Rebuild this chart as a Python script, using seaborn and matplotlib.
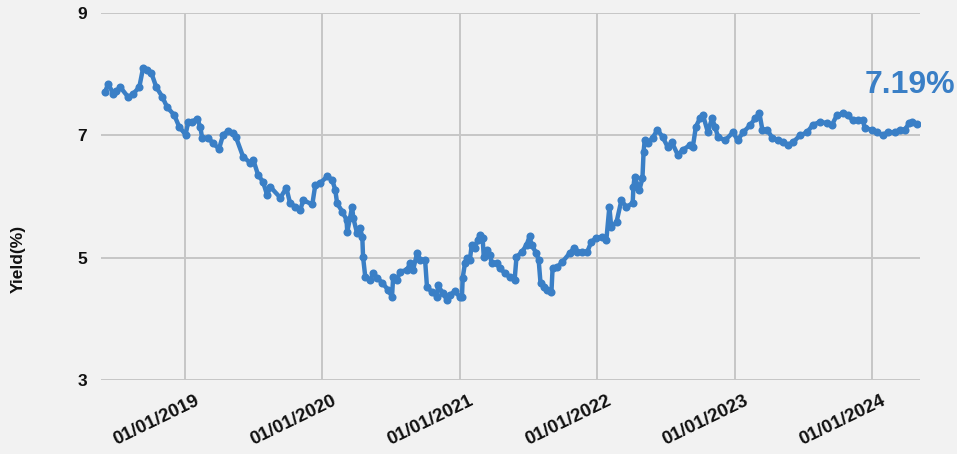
import pandas as pd
import matplotlib
matplotlib.use("Agg")
import matplotlib.pyplot as plt
import matplotlib.dates as mdates
import matplotlib.transforms as mtransforms
import seaborn as sns

# ==============================
# Data
# ==============================
dates = [
    "2018-06-02", "2018-06-10", "2018-06-24", "2018-07-02", "2018-07-12", "2018-08-03",
    "2018-08-16", "2018-09-01", "2018-09-11", "2018-09-22", "2018-10-03", "2018-10-16",
    "2018-11-01", "2018-11-14", "2018-12-03", "2018-12-16", "2019-01-02", "2019-01-09",
    "2019-01-19", "2019-02-02", "2019-02-10", "2019-02-15", "2019-03-03", "2019-03-16",
    "2019-04-01", "2019-04-12", "2019-04-25", "2019-05-08", "2019-05-16", "2019-06-04",
    "2019-06-23", "2019-07-01", "2019-07-14", "2019-07-27", "2019-08-07", "2019-08-15",
    "2019-09-11", "2019-09-27", "2019-10-07", "2019-10-21", "2019-11-03", "2019-11-11",
    "2019-12-05", "2019-12-13", "2019-12-26", "2020-01-14", "2020-01-27", "2020-02-04",
    "2020-02-09", "2020-02-23", "2020-03-05", "2020-03-07", "2020-03-20", "2020-03-23",
    "2020-04-02", "2020-04-10", "2020-04-16", "2020-04-18", "2020-04-24", "2020-05-07",
    "2020-05-15", "2020-05-25", "2020-06-08", "2020-06-24", "2020-07-04", "2020-07-07",
    "2020-07-17", "2020-07-25", "2020-08-13", "2020-08-21", "2020-08-29", "2020-09-09",
    "2020-09-16", "2020-09-30", "2020-10-05", "2020-10-18", "2020-11-01", "2020-11-03",
    "2020-11-16", "2020-11-27", "2020-12-05", "2020-12-18", "2020-12-31", "2021-01-06",
    "2021-01-08", "2021-01-14", "2021-01-19", "2021-01-27", "2021-02-01", "2021-02-09",
    "2021-02-17", "2021-02-22", "2021-03-02", "2021-03-05", "2021-03-13", "2021-03-21",
    "2021-03-26", "2021-04-08", "2021-04-16", "2021-04-30", "2021-05-13", "2021-05-26",
    "2021-05-31", "2021-06-14", "2021-06-27", "2021-07-05", "2021-07-10", "2021-07-23",
    "2021-07-29", "2021-08-03", "2021-08-13", "2021-08-21", "2021-09-01", "2021-09-04",
    "2021-09-17", "2021-09-30", "2021-10-19", "2021-11-01", "2021-11-09", "2021-11-22",
    "2021-12-05", "2021-12-16", "2021-12-29", "2022-01-14", "2022-01-25", "2022-02-02",
    "2022-02-07", "2022-02-21", "2022-03-06", "2022-03-19", "2022-04-05", "2022-04-07",
    "2022-04-10", "2022-04-23", "2022-05-01", "2022-05-04", "2022-05-07", "2022-05-15",
    "2022-05-28", "2022-06-10", "2022-06-24", "2022-07-07", "2022-07-18", "2022-08-03",
    "2022-08-16", "2022-09-04", "2022-09-12", "2022-09-20", "2022-10-01", "2022-10-09",
    "2022-10-22", "2022-11-02", "2022-11-10", "2022-11-18", "2022-12-07", "2022-12-28",
    "2023-01-09", "2023-01-24", "2023-02-12", "2023-02-25", "2023-03-08", "2023-03-16",
    "2023-03-29", "2023-04-11", "2023-04-27", "2023-05-10", "2023-05-23", "2023-06-06",
    "2023-06-24", "2023-07-13", "2023-07-28", "2023-08-16", "2023-09-04", "2023-09-17",
    "2023-09-30", "2023-10-16", "2023-10-29", "2023-11-11", "2023-11-24", "2023-12-08",
    "2023-12-13", "2024-01-02", "2024-01-14", "2024-01-30", "2024-02-12", "2024-03-02",
    "2024-03-15", "2024-03-28", "2024-04-10", "2024-04-18", "2024-04-29",
]
yields = [
    7.71, 7.84, 7.68, 7.72, 7.79, 7.62,
    7.68, 7.79, 8.10, 8.07, 8.02, 7.79,
    7.63, 7.46, 7.33, 7.14, 7.01, 7.22,
    7.22, 7.27, 7.14, 6.96, 6.96, 6.87,
    6.78, 7.01, 7.07, 7.03, 6.97, 6.65,
    6.55, 6.60, 6.35, 6.24, 6.02, 6.16,
    5.98, 6.14, 5.89, 5.83, 5.78, 5.94,
    5.87, 6.19, 6.22, 6.33, 6.27, 6.11,
    5.89, 5.75, 5.62, 5.42, 5.83, 5.65,
    5.40, 5.48, 5.34, 5.01, 4.68, 4.63,
    4.75, 4.67, 4.59, 4.47, 4.36, 4.68,
    4.63, 4.77, 4.80, 4.91, 4.80, 5.08,
    4.96, 4.96, 4.52, 4.44, 4.36, 4.55,
    4.42, 4.31, 4.39, 4.45, 4.36, 4.36,
    4.67, 4.91, 5.00, 4.96, 5.21, 5.16,
    5.29, 5.37, 5.32, 5.01, 5.13, 5.05,
    4.91, 4.91, 4.83, 4.75, 4.68, 4.63,
    5.01, 5.09, 5.21, 5.35, 5.21, 5.07,
    4.96, 4.58, 4.52, 4.47, 4.44, 4.83,
    4.85, 4.93, 5.07, 5.16, 5.09, 5.09,
    5.09, 5.26, 5.32, 5.34, 5.29, 5.83,
    5.50, 5.58, 5.94, 5.83, 5.89, 6.16,
    6.32, 6.11, 6.30, 6.73, 6.92, 6.87,
    6.96, 7.09, 6.97, 6.81, 6.89, 6.68,
    6.76, 6.84, 6.81, 7.14, 7.28, 7.33,
    7.05, 7.28, 7.14, 6.97, 6.92, 7.05,
    6.92, 7.05, 7.17, 7.28, 7.36, 7.09,
    7.09, 6.96, 6.92, 6.89, 6.84, 6.89,
    7.00, 7.05, 7.17, 7.22, 7.20, 7.17,
    7.33, 7.36, 7.33, 7.25, 7.25, 7.25,
    7.12, 7.09, 7.05, 7.00, 7.05, 7.05,
    7.09, 7.09, 7.20, 7.22, 7.19,
]
last_label = "7.19%"
y_ticks = [3, 5, 7, 9]

df = pd.DataFrame({"date": pd.to_datetime(dates), "yield": yields})

# ==============================
# Style
# ==============================
bg = "#f2f2f2"
blue = "#3a7fc6"
sns.set_theme(style="whitegrid", rc={
    "figure.facecolor": bg,
    "axes.facecolor": bg,
    "grid.color": "#c6c6c6",
    "grid.linewidth": 1.4,
})
plt.rcParams["font.family"] = ["Liberation Sans", "DejaVu Sans"]

fig = plt.figure(figsize=(9.57, 4.54), dpi=100)
ax = fig.add_axes([0.1055, 0.163, 0.8558, 0.8084])

# ==============================
# Line plot
# ==============================
sns.lineplot(data=df, x="date", y="yield", ax=ax, color=blue, linewidth=3.2,
             marker="o", markersize=5.8, markeredgewidth=0)

ax.set_ylim(3, 9)
ax.set_yticks(y_ticks)
ax.set_xlim(pd.Timestamp("2018-05-22"), pd.Timestamp("2024-05-08"))
ax.xaxis.set_major_locator(mdates.YearLocator())
ax.xaxis.set_major_formatter(mdates.DateFormatter("%m/%d/%Y"))

for s in ax.spines.values():
    s.set_visible(False)
ax.tick_params(axis="both", length=0, colors="#111111")
ax.tick_params(axis="y", pad=10, labelsize=12.5)
ax.tick_params(axis="x", pad=9, labelsize=13.5)
shift = mtransforms.ScaledTranslation(0.09, 0, fig.dpi_scale_trans)
for lbl in ax.get_yticklabels():
    lbl.set_fontweight("bold")
for lbl in ax.get_xticklabels():
    lbl.set_fontweight("bold")
    lbl.set_rotation(26)
    lbl.set_ha("right")
    lbl.set_rotation_mode("anchor")
    lbl.set_transform(lbl.get_transform() + shift)

ax.set_xlabel("")
ax.set_ylabel("Yield(%)", fontsize=12.5, fontweight="bold", color="#111111")
ax.yaxis.set_label_coords(-0.092, 0.33)

# last value annotation
ax.text(pd.Timestamp("2023-12-14"), 7.82, last_label, color=blue, fontsize=23,
        fontweight="bold", ha="left", va="center", clip_on=False)

fig.savefig("out.png", dpi=100, facecolor=bg)
